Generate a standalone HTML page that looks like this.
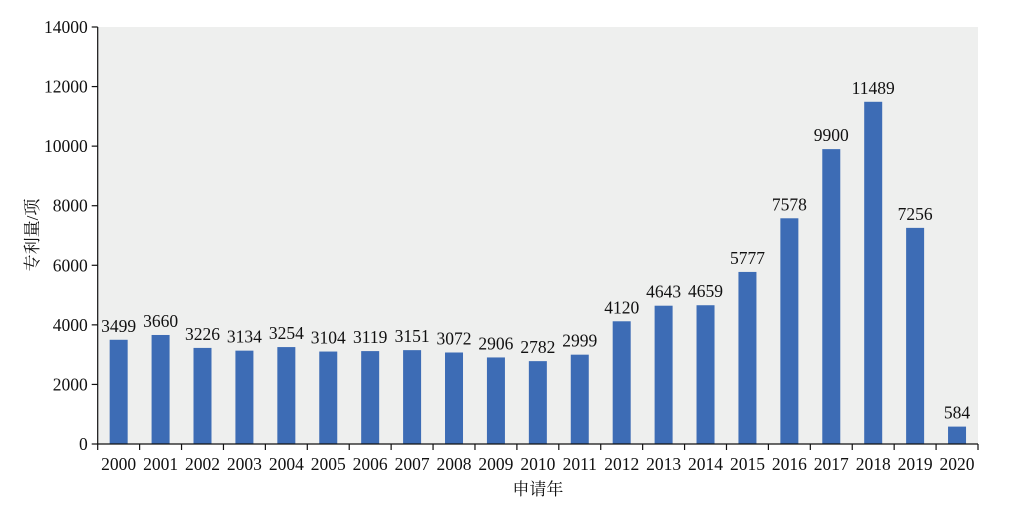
<!DOCTYPE html>
<html><head><meta charset="utf-8"><style>
body{margin:0;background:#fff}
svg text{font-family:"Liberation Serif","Noto Serif CJK SC",serif;fill:#111}
</style></head><body>
<svg id="c" width="1025" height="504"></svg>
<script>
const categories=["2000","2001","2002","2003","2004","2005","2006","2007","2008","2009","2010","2011","2012","2013","2014","2015","2016","2017","2018","2019","2020"];
const values=[3499,3660,3226,3134,3254,3104,3119,3151,3072,2906,2782,2999,4120,4643,4659,5777,7578,9900,11489,7256,584];
const yTicks=[0,2000,4000,6000,8000,10000,12000,14000];
const L=97.7,R=978,T=27,B=444,yMax=14000;
const NS="http://www.w3.org/2000/svg";
const svg=document.getElementById('c');
const bw=(R-L)/categories.length;
const y=v=>B-(v/yMax)*(B-T);
const xc=i=>L+bw*(i+0.5);
function mk(t,a,p){const e=document.createElementNS(NS,t);for(const k in a)e.setAttribute(k,a[k]);(p||svg).appendChild(e);return e;}
const bg=mk('rect',{x:L,y:T,width:R-L,height:B-T,fill:'#eeefee'});


values.forEach((v,i)=>{
  const r=mk('rect',{x:xc(i)-9,y:y(v),width:18,height:B-y(v),fill:'#3d6cb5'});
  
  
  const t=mk('text',{x:xc(i),y:y(v)-8,'text-anchor':'middle','font-size':17.5});
  t.textContent=v;
  
  
  const l=mk('text',{x:xc(i),y:470,'text-anchor':'middle','font-size':17.5});
  l.textContent=categories[i];
  
  
});
for(let i=0;i<=categories.length;i++){
  const tk=mk('line',{x1:L+bw*i,x2:L+bw*i,y1:B,y2:B+6,stroke:'#111','stroke-width':1.2});
  
  
}
yTicks.forEach(v=>{
  const tk=mk('line',{x1:L-6,x2:L,y1:y(v),y2:y(v),stroke:'#111','stroke-width':1.2});
  
  
  const t=mk('text',{x:L-10,y:y(v)+6,'text-anchor':'end','font-size':17.5});
  t.textContent=v;
  
  
});
const ax=mk('line',{x1:L,x2:L,y1:T,y2:B,stroke:'#111','stroke-width':1.2});


const axx=mk('line',{x1:L,x2:R,y1:B,y2:B,stroke:'#111','stroke-width':1.2});


const xt=mk('text',{x:(L+R)/2,y:495,'text-anchor':'middle','font-size':17});
xt.textContent='申请年';


const yt=mk('text',{x:0,y:0,'text-anchor':'middle','font-size':17,transform:'translate(38,235) rotate(-90)'});
yt.textContent='专利量/项';


</script>
</body></html>
